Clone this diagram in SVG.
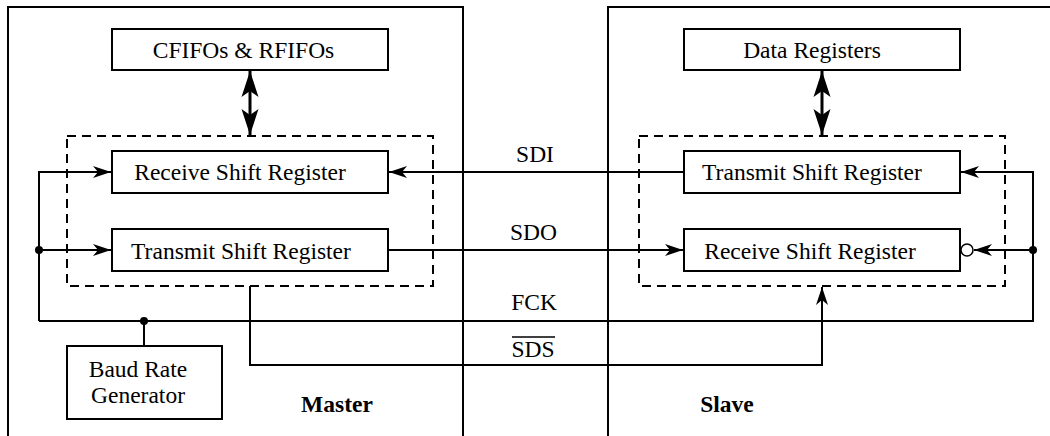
<svg xmlns="http://www.w3.org/2000/svg" width="1050" height="436" viewBox="0 0 1050 436">
<style>
.frame{fill:none;stroke:#000;stroke-width:2}
.box{fill:#fff;stroke:#000;stroke-width:2}
.dash{fill:none;stroke:#000;stroke-width:2;stroke-dasharray:9 6}
.w{fill:none;stroke:#000;stroke-width:2}
.t{font-family:"Liberation Serif","Times New Roman",serif;font-size:23.5px;fill:#000;text-anchor:middle}
.b{font-weight:bold}
</style>
<defs>
<marker id="ah" markerUnits="userSpaceOnUse" markerWidth="18" markerHeight="14" refX="18" refY="7" orient="auto">
<path d="M0,1 L18,7 L0,13 L5,7 Z" fill="#000"/>
</marker>
<marker id="big" markerUnits="userSpaceOnUse" markerWidth="26" markerHeight="18" refX="26" refY="9" orient="auto-start-reverse">
<path d="M0,0.5 L26,9 L0,17.5 L6,9 Z" fill="#000"/>
</marker>
</defs>

<g id="master-frame">
<path class="frame" d="M8,436 V7 H463 V436"/>
<text class="t b" x="337" y="412">Master</text>
</g>
<g id="slave-frame">
<path class="frame" d="M608,436 V7 H1050"/>
<text class="t b" x="727" y="412">Slave</text>
</g>

<g id="master-shift-group"><rect class="dash" x="67" y="136" width="366" height="150"/></g>
<g id="slave-shift-group"><rect class="dash" x="639" y="136" width="366" height="150"/></g>

<g id="cfifos">
<rect class="box" x="112" y="29" width="276" height="41"/>
<text class="t" x="243.5" y="58">CFIFOs &amp; RFIFOs</text>
</g>
<g id="data-registers">
<rect class="box" x="684" y="29" width="276" height="41"/>
<text class="t" x="812" y="58">Data Registers</text>
</g>
<g id="master-receive">
<rect class="box" x="112" y="151" width="276" height="42"/>
<text class="t" x="240" y="180">Receive Shift Register</text>
</g>
<g id="master-transmit">
<rect class="box" x="112" y="229" width="276" height="42"/>
<text class="t" x="241" y="259">Transmit Shift Register</text>
</g>
<g id="slave-transmit">
<rect class="box" x="684" y="151" width="276" height="42"/>
<text class="t" x="812" y="180">Transmit Shift Register</text>
</g>
<g id="slave-receive">
<rect class="box" x="684" y="229" width="276" height="42"/>
<text class="t" x="810" y="259">Receive Shift Register</text>
</g>
<g id="baud-rate">
<rect class="box" x="67" y="346" width="155" height="73"/>
<text class="t" x="138" y="377">Baud Rate</text>
<text class="t" x="138" y="403">Generator</text>
</g>

<g id="connectors">
<line x1="250" y1="71" x2="250" y2="135" stroke="#000" stroke-width="3" marker-start="url(#big)" marker-end="url(#big)"/>
<line x1="822" y1="71" x2="822" y2="135" stroke="#000" stroke-width="3" marker-start="url(#big)" marker-end="url(#big)"/>
<line class="w" x1="684" y1="172" x2="389" y2="172" marker-end="url(#ah)"/>
<line class="w" x1="388" y1="250" x2="683" y2="250" marker-end="url(#ah)"/>
<path class="w" d="M39,321 V172 H111" marker-end="url(#ah)"/>
<line class="w" x1="39" y1="250" x2="111" y2="250" marker-end="url(#ah)"/>
<path class="w" d="M39,321 H1033 V172 H961" marker-end="url(#ah)"/>
<line class="w" x1="1033" y1="250" x2="974" y2="250" marker-end="url(#ah)"/>
<line class="w" x1="144" y1="321" x2="144" y2="346"/>
<path class="w" d="M250,286 V365 H822 V287" marker-end="url(#ah)"/>
<circle cx="967" cy="250" r="6" fill="#fff" stroke="#000" stroke-width="1.5"/>
<circle cx="39" cy="250" r="4" fill="#000"/>
<circle cx="144" cy="321" r="4" fill="#000"/>
<circle cx="1033" cy="250" r="4" fill="#000"/>
<text class="t" x="535" y="162">SDI</text>
<text class="t" x="533.5" y="240">SDO</text>
<text class="t" x="534" y="310">FCK</text>
<text class="t" x="533" y="357">SDS</text>
<line x1="512" y1="337" x2="555" y2="337" stroke="#000" stroke-width="1.5"/>
</g>
</svg>
